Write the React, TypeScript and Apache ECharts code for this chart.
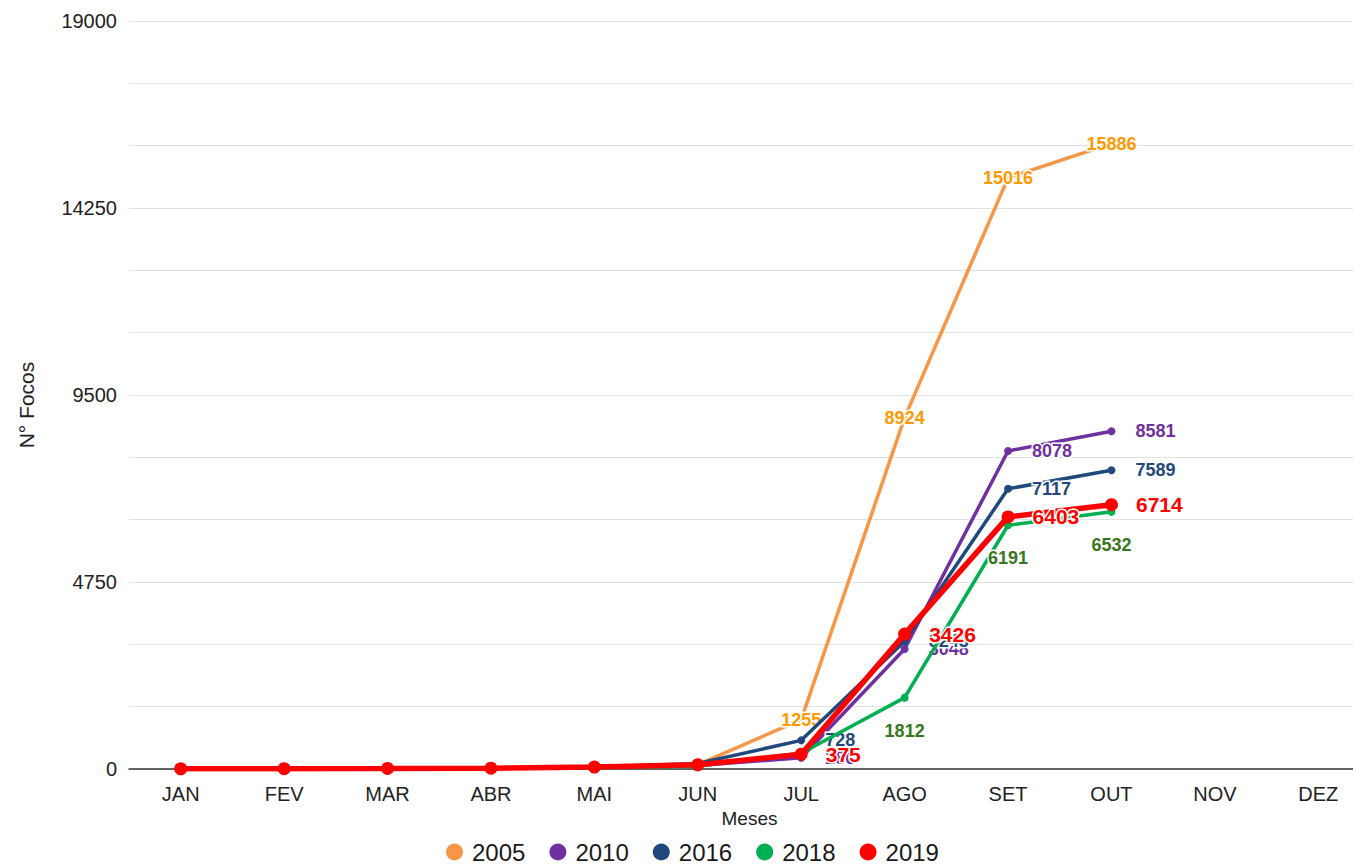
import React, { useEffect, useRef } from "react";
import * as echarts from "echarts";

const months = ["JAN", "FEV", "MAR", "ABR", "MAI", "JUN", "JUL", "AGO", "SET", "OUT", "NOV", "DEZ"];
const s2005 = [3, 8, 15, 22, 45, 110, 1255, 8924, 15016, 15886, null, null];
const s2010 = [2, 5, 10, 18, 38, 90, 286, 3048, 8078, 8581, null, null];
const s2016 = [4, 9, 14, 25, 50, 140, 728, 3243, 7117, 7589, null, null];
const s2018 = [1, 4, 8, 15, 30, 70, 402, 1812, 6191, 6532, null, null];
const s2019 = [5, 9, 14, 22, 48, 105, 375, 3426, 6403, 6714, null, null];
const yTickLabels = [0, 4750, 9500, 14250, 19000];

const FONT = "'Liberation Sans', Arial, sans-serif";

const mkFmt = (from: number) => (p: any) =>
  p.dataIndex >= from && p.value != null ? String(p.value) : "";

function mkSeries(
  name: string,
  data: (number | null)[],
  lineColor: string,
  labelColor: string,
  opts: any
) {
  return {
    name,
    type: "line",
    data,
    color: lineColor,
    lineStyle: { color: lineColor, width: opts.width },
    itemStyle: { color: lineColor },
    symbol: "circle",
    symbolSize: opts.symbolSize,
    showSymbol: true,
    label: {
      show: true,
      formatter: mkFmt(opts.labelFrom),
      position: opts.position,
      distance: opts.distance,
      color: labelColor,
      fontWeight: "bold",
      fontSize: opts.fontSize,
      fontFamily: FONT,
      textBorderColor: "#ffffff",
      textBorderWidth: 3,
    },
    z: opts.z,
  };
}

export default function App() {
  const ref = useRef<HTMLDivElement>(null);
  useEffect(() => {
    if (!ref.current) return;
    const chart = echarts.init(ref.current, null, { renderer: "svg" });
    chart.setOption({
      animation: false,
      backgroundColor: "#ffffff",
      textStyle: { fontFamily: FONT },
      grid: { left: 129, right: 5, top: 21, bottom: 97, containLabel: false },
      legend: {
        left: 441,
        top: 835,
        icon: "circle",
        itemWidth: 17,
        itemHeight: 17,
        itemGap: 24,
        textStyle: { fontSize: 24, color: "#1a1a1a", fontFamily: FONT, padding: [0, 0, 0, 4] },
        data: ["2005", "2010", "2016", "2018", "2019"],
      },
      xAxis: {
        type: "category",
        data: months,
        boundaryGap: true,
        name: "Meses",
        nameLocation: "middle",
        nameGap: 40,
        nameTextStyle: { fontSize: 19, color: "#222", fontFamily: FONT },
        axisTick: { show: false },
        axisLine: { lineStyle: { color: "#333", width: 1.5 } },
        axisLabel: { fontSize: 20, color: "#222", margin: 15, fontFamily: FONT },
      },
      yAxis: {
        type: "value",
        min: 0,
        max: 19000,
        interval: 19000 / 12,
        name: "N° Focos",
        nameLocation: "middle",
        nameRotate: 90,
        nameGap: 92,
        nameTextStyle: { fontSize: 21, color: "#222", fontFamily: FONT, padding: [0, 20, 0, 0] },
        axisLine: { show: false },
        axisTick: { show: false },
        axisLabel: {
          fontSize: 20,
          color: "#222",
          margin: 12,
          fontFamily: FONT,
          formatter: (v: number) => {
            const hit = yTickLabels.find((t) => Math.abs(t - v) < 1);
            return hit === undefined ? "" : String(hit);
          },
        },
        splitLine: { lineStyle: { color: "#e2e2e2", width: 1 } },
      },
      series: [
        mkSeries("2005", s2005, "#F79646", "#FF9900", {
          width: 3.5, symbolSize: 1, position: "inside", distance: 0, fontSize: 18, z: 2, labelFrom: 6,
        }),
        mkSeries("2010", s2010, "#7030A0", "#7030A0", {
          width: 3.5, symbolSize: 8, position: "right", distance: 20, fontSize: 18, z: 3, labelFrom: 6,
        }),
        mkSeries("2016", s2016, "#1F497D", "#1F497D", {
          width: 3.5, symbolSize: 8, position: "right", distance: 20, fontSize: 18, z: 4, labelFrom: 6,
        }),
        mkSeries("2018", s2018, "#00B050", "#38761D", {
          width: 3.5, symbolSize: 8, position: "bottom", distance: 20, fontSize: 18, z: 5, labelFrom: 7,
        }),
        mkSeries("2019", s2019, "#FF0000", "#FF0000", {
          width: 5.5, symbolSize: 13, position: "right", distance: 18, fontSize: 21, z: 6, labelFrom: 6,
        }),
      ],
    });
    return () => chart.dispose();
  }, []);
  return (
    <div style={{ position: "absolute", left: 0, top: 0, width: 1353, height: 866, overflow: "hidden", background: "#fff" }}>
      <div ref={ref} style={{ width: 1375, height: 866 }} />
    </div>
  );
}
